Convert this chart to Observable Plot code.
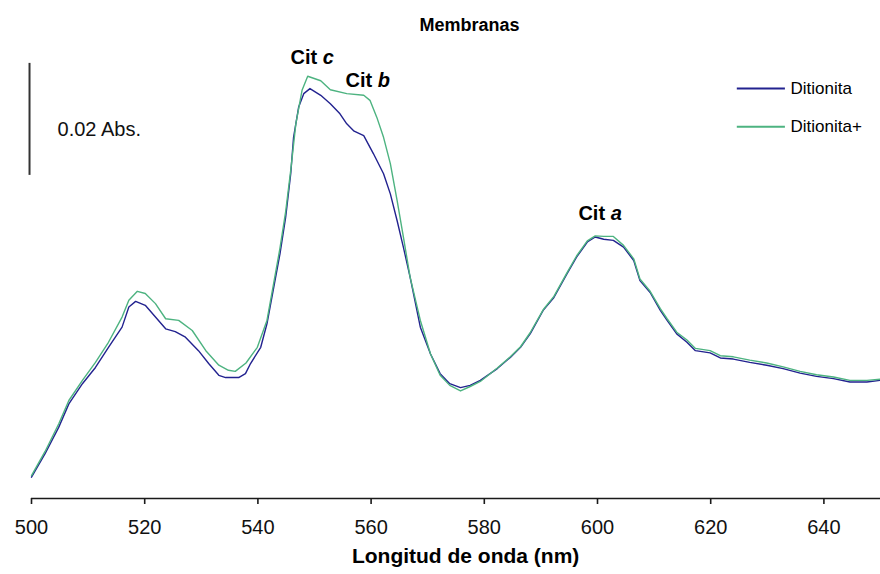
<!DOCTYPE html>
<html>
<head>
<meta charset="utf-8">
<script src="https://cdn.jsdelivr.net/npm/d3@7"></script>
<script src="https://cdn.jsdelivr.net/npm/@observablehq/plot@0.6"></script>
<style>
  html, body { margin: 0; padding: 0; background: #fff; }
  #chart { width: 880px; height: 574px; }
</style>
</head>
<body>
<div id="chart"></div>
<script>
// ---- data (wavelength in nm, absorbance in Abs units relative to the baseline) ----
const blueNm = [500,502.4,504.8,506.6,509.0,511.3,513.6,516.0,517.2,518.4,520.1,521.9,523.7,525.4,527.2,529.5,531.3,533.1,534.3,536.6,537.8,538.7,540.5,541.6,542.8,543.9,544.9,545.8,546.3,547.2,548.1,549.2,551.1,552.8,554.5,555.7,557.0,558.7,560.4,562.2,563.4,564.6,565.7,566.9,568.7,570.5,572.2,573.9,575.8,577.5,579.3,582.3,584.6,586.4,588.1,590.4,592.3,594.6,596.3,598.2,599.6,601.1,602.8,604.6,606.4,607.5,609.3,611.1,612.3,614.0,615.8,617.3,619.9,621.7,624.0,626.9,629.9,632.8,635.8,638.7,641.7,644.6,647.6,650];
const blueAbs = [0.0038,0.0080,0.0127,0.0169,0.0205,0.0234,0.0270,0.0306,0.0342,0.0352,0.0345,0.0324,0.0303,0.0298,0.0288,0.0264,0.0241,0.0220,0.0216,0.0216,0.0223,0.0241,0.0270,0.0312,0.0377,0.0437,0.0502,0.0580,0.0645,0.0699,0.0723,0.0732,0.0720,0.0705,0.0687,0.0669,0.0656,0.0648,0.0616,0.0580,0.0544,0.0496,0.0449,0.0395,0.0306,0.0258,0.0223,0.0205,0.0198,0.0202,0.0211,0.0232,0.0252,0.0270,0.0294,0.0336,0.0359,0.0401,0.0431,0.0458,0.0467,0.0463,0.0461,0.0449,0.0425,0.0389,0.0368,0.0336,0.0318,0.0294,0.0279,0.0264,0.0260,0.0251,0.0249,0.0243,0.0238,0.0232,0.0224,0.0218,0.0214,0.0208,0.0208,0.0211];

const greenNm = [500,502.4,504.8,506.6,509.0,511.3,513.6,516.0,517.2,518.7,520.1,521.9,523.7,526.0,528.4,530.8,533.1,534.8,536.0,537.9,539.9,541.6,542.8,543.9,544.9,545.8,546.7,547.8,548.8,551.1,552.8,555.7,558.7,559.8,561.0,562.2,563.4,564.6,565.7,566.9,568.7,570.5,572.2,573.9,575.8,577.5,579.3,582.3,584.6,586.4,588.1,590.4,592.3,594.6,596.3,598.2,599.6,601.1,602.8,604.6,606.4,607.5,609.3,611.1,612.3,614.0,615.8,617.3,619.9,621.7,624.0,626.9,629.9,632.8,635.8,638.7,641.7,644.6,647.6,650];
const greenAbs = [0.0041,0.0084,0.0133,0.0175,0.0211,0.0243,0.0279,0.0324,0.0354,0.0370,0.0366,0.0348,0.0321,0.0318,0.0300,0.0264,0.0238,0.0229,0.0227,0.0242,0.0270,0.0318,0.0385,0.0447,0.0512,0.0586,0.0669,0.0729,0.0754,0.0746,0.0730,0.0723,0.0720,0.0711,0.0681,0.0645,0.0598,0.0532,0.0467,0.0395,0.0318,0.0258,0.0220,0.0202,0.0192,0.0200,0.0209,0.0233,0.0253,0.0271,0.0296,0.0337,0.0361,0.0403,0.0433,0.0460,0.0469,0.0468,0.0468,0.0452,0.0428,0.0392,0.0370,0.0339,0.0321,0.0297,0.0283,0.0268,0.0264,0.0255,0.0253,0.0247,0.0242,0.0235,0.0227,0.0221,0.0217,0.0211,0.0211,0.0213];

const seriesNames = ["Ditionita", "Ditionita+"];
const xTicks = [500, 520, 540, 560, 580, 600, 620, 640];
const peakBase = ["Cit", "Cit", "Cit"];
const peakLetter = ["c", "b", "a"];
const titleText = "Membranas";
const xLabelText = "Longitud de onda (nm)";
const scaleBarText = "0.02 Abs.";
const scaleBarSize = 0.02;

// ---- annotation anchors (data coordinates) ----
const peakX = [551.45, 561.17, 602.33];
const peakY = [0.0787, 0.0747, 0.0509];
const legendX1 = 624.7, legendX2 = 633.2, legendTextX = 634.1;
const legendY = [0.0732, 0.0664];
const barX = 499.65, barY1 = 0.0577;
const barTextX = 504.6, barTextY = 0.0658;
const titleX = 577.4, titleY = 0.0846;
const xLabelX = 576.7;

const colors = ["#22228f", "#4db380"];
const blue = blueNm.map((x, i) => ({x, y: blueAbs[i]}));
const green = greenNm.map((x, i) => ({x, y: greenAbs[i]}));
const peaks = peakX.map((x, i) => ({x, y: peakY[i], base: peakBase[i], letter: peakLetter[i]}));
const legend = seriesNames.map((name, i) => ({name, y: legendY[i], color: colors[i]}));

const FONT = "'Liberation Sans', Arial, sans-serif";

const chart = Plot.plot({
  width: 880,
  height: 574,
  marginLeft: 31,
  marginRight: 0,
  marginTop: 0,
  marginBottom: 76,
  style: {fontFamily: FONT, background: "#fff", color: "#000", overflow: "visible"},
  x: {domain: [500, 650]},
  y: {domain: [0, 0.08893], axis: null},
  marks: [
    Plot.ruleY([0], {stroke: "#1a1a1a", strokeWidth: 1.6}),
    Plot.axisX(xTicks, {tickSize: 6, tickPadding: 15, fontSize: 20, stroke: "#1a1a1a", strokeWidth: 1.6, label: null, tickFormat: d => String(d), fill: "#111"}),
    Plot.line(blue, {x: "x", y: "y", stroke: colors[0], strokeWidth: 1.4}),
    Plot.line(green, {x: "x", y: "y", stroke: colors[1], strokeWidth: 1.4}),
    // scale bar
    Plot.ruleX([barX], {y1: barY1, y2: barY1 + scaleBarSize, stroke: "#333", strokeWidth: 2}),
    Plot.text([scaleBarText], {x: barTextX, y: barTextY, text: d => d, textAnchor: "start", fontSize: 20, fill: "#111"}),
    // peak labels
    Plot.text(peaks, {x: "x", y: "y", text: "base", textAnchor: "end", dx: -5.6, fontSize: 20, fontWeight: "bold", fill: "#000"}),
    Plot.text(peaks, {x: "x", y: "y", text: "letter", textAnchor: "start", fontSize: 20, fontWeight: "bold", fontStyle: "italic", fill: "#000"}),
    // legend
    Plot.ruleY(legend, {x1: legendX1, x2: legendX2, y: "y", stroke: "color", strokeWidth: 2}),
    Plot.text(legend, {x: legendTextX, y: "y", text: "name", textAnchor: "start", fontSize: 17, fill: "#000"}),
    // title and axis label
    Plot.text([titleText], {x: titleX, y: titleY, text: d => d, fontSize: 18, fontWeight: "bold", fill: "#000"}),
    Plot.text([xLabelText], {x: xLabelX, frameAnchor: "bottom", dy: 64, text: d => d, fontSize: 21, fontWeight: "bold", fill: "#000"})
  ]
});
document.getElementById("chart").append(chart);
</script>
</body>
</html>
